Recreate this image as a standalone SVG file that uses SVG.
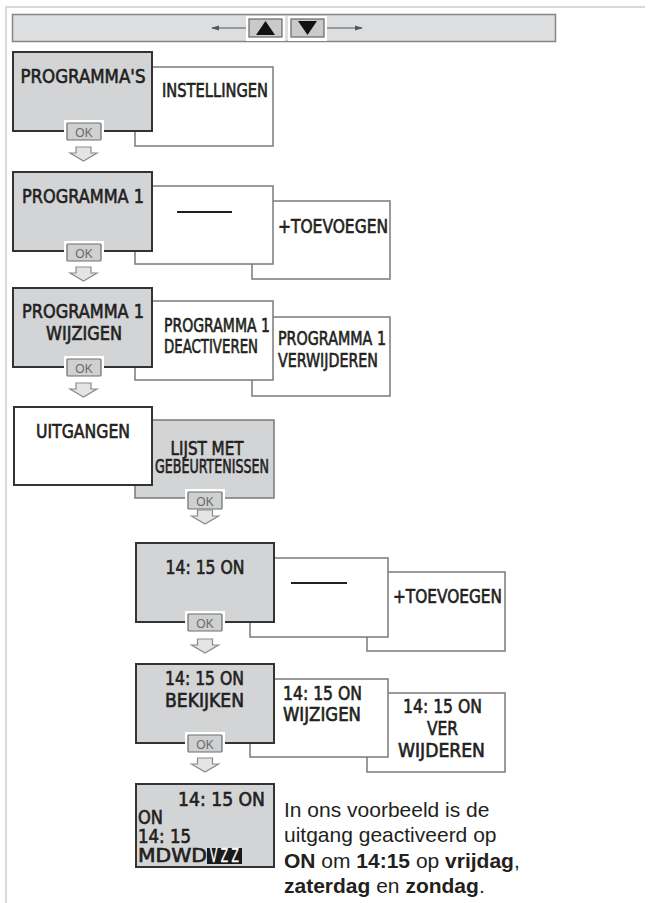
<svg xmlns="http://www.w3.org/2000/svg" width="654" height="903" viewBox="0 0 654 903">
<style>
.frame{fill:none;stroke:#d9d9d9;stroke-width:2}
.bar{fill:#dddedf;stroke:#858585;stroke-width:1.5}
.dk{fill:#d3d4d6;stroke:#333;stroke-width:2}
.wd{fill:#fff;stroke:#333;stroke-width:2}
.lt{fill:#fff;stroke:#7a7a7a;stroke-width:1.5}
.gl{fill:#d3d4d6;stroke:#7a7a7a;stroke-width:1.5}
.okw{fill:#fff}
.ok{fill:#cfd0d1;stroke:#6d6d6d;stroke-width:1.2}
.okt{font-family:"Liberation Sans",Arial,sans-serif;font-size:12px;fill:#6a6a6a;text-anchor:middle}
.arr{fill:#e4e4e4;stroke:#8a8a8a;stroke-width:1.2}
.lbl{font-family:"Liberation Sans Narrow","DejaVu Sans Condensed","Liberation Sans",sans-serif;font-size:19px;fill:#231f20;stroke:#231f20;stroke-width:0.6}
.inv{fill:#fff;stroke:#fff;stroke-width:0.4}
.mid{text-anchor:middle}
.dash{stroke:#231f20;stroke-width:2}
.para{font-family:"Liberation Sans",Arial,sans-serif;font-size:21px;fill:#231f20}
.b{font-weight:bold}
.btnw{fill:#fff}
.btn{fill:#c9cacb;stroke:#666;stroke-width:1.2}
.tri{fill:#111}
.nav{stroke:#555;stroke-width:1.2}
</style>
<defs>
<marker id="ah" markerWidth="8" markerHeight="6" refX="7" refY="3" orient="auto" markerUnits="userSpaceOnUse">
<path d="M0,0.5 L8,3 L0,5.5 Z" fill="#555"/>
</marker>
<symbol id="okbtn" overflow="visible">
<rect class="okw" x="-3" y="-3" width="40" height="23"/>
<rect class="ok" x="0" y="0" width="34" height="17" rx="1"/>
<text class="okt" x="17" y="13.5">OK</text>
</symbol>
<symbol id="down" overflow="visible">
<path class="arr" d="M6,0 H21 V6 H27 L13.5,14 L0,6 H6 Z"/>
</symbol>
</defs>

<g id="frame">
<path class="frame" d="M6,903 V7 H645"/>
</g>

<g id="navbar">
<rect class="bar" x="12.5" y="14.5" width="543" height="27"/>
<rect class="btnw" x="246" y="16" width="39" height="25"/>
<rect class="btnw" x="288" y="16" width="39" height="25"/>
<rect class="btn" x="249" y="19" width="33" height="18"/>
<rect class="btn" x="291" y="19" width="33" height="18"/>
<path class="tri" d="M256,35 L265.5,21 L275,35 Z"/>
<path class="tri" d="M298,21 L317,21 L307.5,35 Z"/>
<line class="nav" x1="246" y1="28" x2="212" y2="28" marker-end="url(#ah)"/>
<line class="nav" x1="327" y1="28" x2="362" y2="28" marker-end="url(#ah)"/>
</g>

<!-- Row 1 -->
<g id="instellingen">
<rect class="lt" x="135" y="67" width="138" height="79"/>
<text class="lbl mid" x="215" y="97" textLength="106" lengthAdjust="spacingAndGlyphs">INSTELLINGEN</text>
</g>
<g id="programmas">
<rect class="dk" x="13" y="52" width="139" height="79"/>
<text class="lbl mid" x="83" y="83" font-size="20" textLength="125" lengthAdjust="spacingAndGlyphs">PROGRAMMA'S</text>
<use href="#okbtn" x="67" y="123"/>
</g>

<!-- Row 2 -->
<g id="toevoegen1">
<rect class="lt" x="252" y="201" width="138" height="78"/>
<text class="lbl mid" x="333" y="233" textLength="110" lengthAdjust="spacingAndGlyphs">+TOEVOEGEN</text>
</g>
<g id="leeg1">
<rect class="lt" x="135" y="186" width="138" height="78"/>
<line class="dash" x1="177" y1="212" x2="232" y2="212"/>
</g>
<g id="programma1">
<rect class="dk" x="13" y="172" width="139" height="79"/>
<text class="lbl mid" x="83" y="203" font-size="20" textLength="122" lengthAdjust="spacingAndGlyphs">PROGRAMMA 1</text>
<use href="#okbtn" x="67" y="244"/>
</g>

<!-- Row 3 -->
<g id="verwijderen1">
<rect class="lt" x="252" y="317" width="138" height="79"/>
<text class="lbl" x="278" y="345" textLength="108" lengthAdjust="spacingAndGlyphs">PROGRAMMA 1</text>
<text class="lbl" x="278" y="367" textLength="100" lengthAdjust="spacingAndGlyphs">VERWIJDEREN</text>
</g>
<g id="deactiveren1">
<rect class="lt" x="135" y="301" width="138" height="79"/>
<text class="lbl" x="164" y="332" textLength="106" lengthAdjust="spacingAndGlyphs">PROGRAMMA 1</text>
<text class="lbl" x="164" y="353" textLength="94" lengthAdjust="spacingAndGlyphs">DEACTIVEREN</text>
</g>
<g id="wijzigen1">
<rect class="dk" x="13" y="288" width="139" height="79"/>
<text class="lbl mid" x="83" y="318" font-size="20" textLength="122" lengthAdjust="spacingAndGlyphs">PROGRAMMA 1</text>
<text class="lbl mid" x="84" y="340" font-size="20" textLength="76" lengthAdjust="spacingAndGlyphs">WIJZIGEN</text>
<use href="#okbtn" x="67" y="359"/>
</g>

<!-- Row 4 -->
<g id="lijst">
<rect class="gl" x="135" y="420" width="139" height="78"/>
<text class="lbl mid" x="207" y="455" font-size="15.5" textLength="73" lengthAdjust="spacingAndGlyphs">LIJST MET</text>
<text class="lbl mid" x="212" y="473" font-size="15.5" textLength="114" lengthAdjust="spacingAndGlyphs">GEBEURTENISSEN</text>
<use href="#okbtn" x="188" y="492"/>
</g>
<g id="uitgangen">
<rect class="wd" x="14" y="407" width="138" height="78"/>
<text class="lbl mid" x="83" y="438" font-size="20" textLength="94" lengthAdjust="spacingAndGlyphs">UITGANGEN</text>
</g>

<!-- Row 5 -->
<g id="toevoegen2">
<rect class="lt" x="367" y="572" width="138" height="79"/>
<text class="lbl mid" x="447.5" y="603" textLength="109" lengthAdjust="spacingAndGlyphs">+TOEVOEGEN</text>
</g>
<g id="leeg2">
<rect class="lt" x="250" y="558" width="138" height="79"/>
<line class="dash" x1="291" y1="583" x2="347" y2="583"/>
</g>
<g id="event1415">
<rect class="dk" x="136" y="543" width="138" height="79"/>
<text class="lbl mid" x="205" y="574" font-size="20" textLength="79" lengthAdjust="spacingAndGlyphs">14: 15 ON</text>
<use href="#okbtn" x="188" y="614"/>
</g>

<!-- Row 6 -->
<g id="verwijderen1415">
<rect class="lt" x="367" y="693" width="138" height="79"/>
<text class="lbl mid" x="442.5" y="713" font-size="20" textLength="79" lengthAdjust="spacingAndGlyphs">14: 15 ON</text>
<text class="lbl mid" x="442.5" y="735" font-size="20" textLength="31" lengthAdjust="spacingAndGlyphs">VER</text>
<text class="lbl mid" x="441.5" y="757" font-size="20" textLength="87" lengthAdjust="spacingAndGlyphs">WIJDEREN</text>
</g>
<g id="wijzigen1415">
<rect class="lt" x="250" y="679" width="138" height="78"/>
<text class="lbl" x="283" y="700" font-size="20" textLength="79" lengthAdjust="spacingAndGlyphs">14: 15 ON</text>
<text class="lbl" x="283" y="721" font-size="20" textLength="78" lengthAdjust="spacingAndGlyphs">WIJZIGEN</text>
</g>
<g id="bekijken1415">
<rect class="dk" x="136" y="664" width="138" height="79"/>
<text class="lbl mid" x="204.5" y="685" font-size="20" textLength="79" lengthAdjust="spacingAndGlyphs">14: 15 ON</text>
<text class="lbl mid" x="204.5" y="707" font-size="20" textLength="79" lengthAdjust="spacingAndGlyphs">BEKIJKEN</text>
<use href="#okbtn" x="188" y="735"/>
</g>

<!-- Row 7 -->
<g id="display">
<rect class="dk" x="136" y="784" width="138" height="83"/>
<text class="lbl" x="265" y="806" font-size="19" text-anchor="end" textLength="87" lengthAdjust="spacingAndGlyphs">14: 15 ON</text>
<text class="lbl" x="138" y="824" font-size="16" textLength="25" lengthAdjust="spacingAndGlyphs">ON</text>
<text class="lbl" x="138" y="843" font-size="16" textLength="53" lengthAdjust="spacingAndGlyphs">14: 15</text>
<text class="lbl" x="138" y="862" font-size="16" textLength="69" lengthAdjust="spacingAndGlyphs">MDWD</text>
<rect x="207" y="848" width="35" height="16" fill="#1a1a1a"/>
<text class="lbl inv" x="210" y="862" font-size="15" textLength="29" lengthAdjust="spacingAndGlyphs">V Z Z</text>
</g>

<g id="connectors">
<use href="#down" x="70" y="147"/>
<use href="#down" x="70" y="267"/>
<use href="#down" x="70" y="383"/>
<use href="#down" x="191.5" y="510"/>
<use href="#down" x="191.5" y="639"/>
<use href="#down" x="191.5" y="758"/>
</g>

<g id="note">
<text class="para" x="284" y="817">In ons voorbeeld is de</text>
<text class="para" x="284" y="842">uitgang geactiveerd op</text>
<text class="para" x="284" y="868"><tspan class="b">ON</tspan> om <tspan class="b">14:15</tspan> op <tspan class="b">vrijdag</tspan>,</text>
<text class="para" x="284" y="893"><tspan class="b">zaterdag</tspan> en <tspan class="b">zondag</tspan>.</text>
</g>
</svg>
